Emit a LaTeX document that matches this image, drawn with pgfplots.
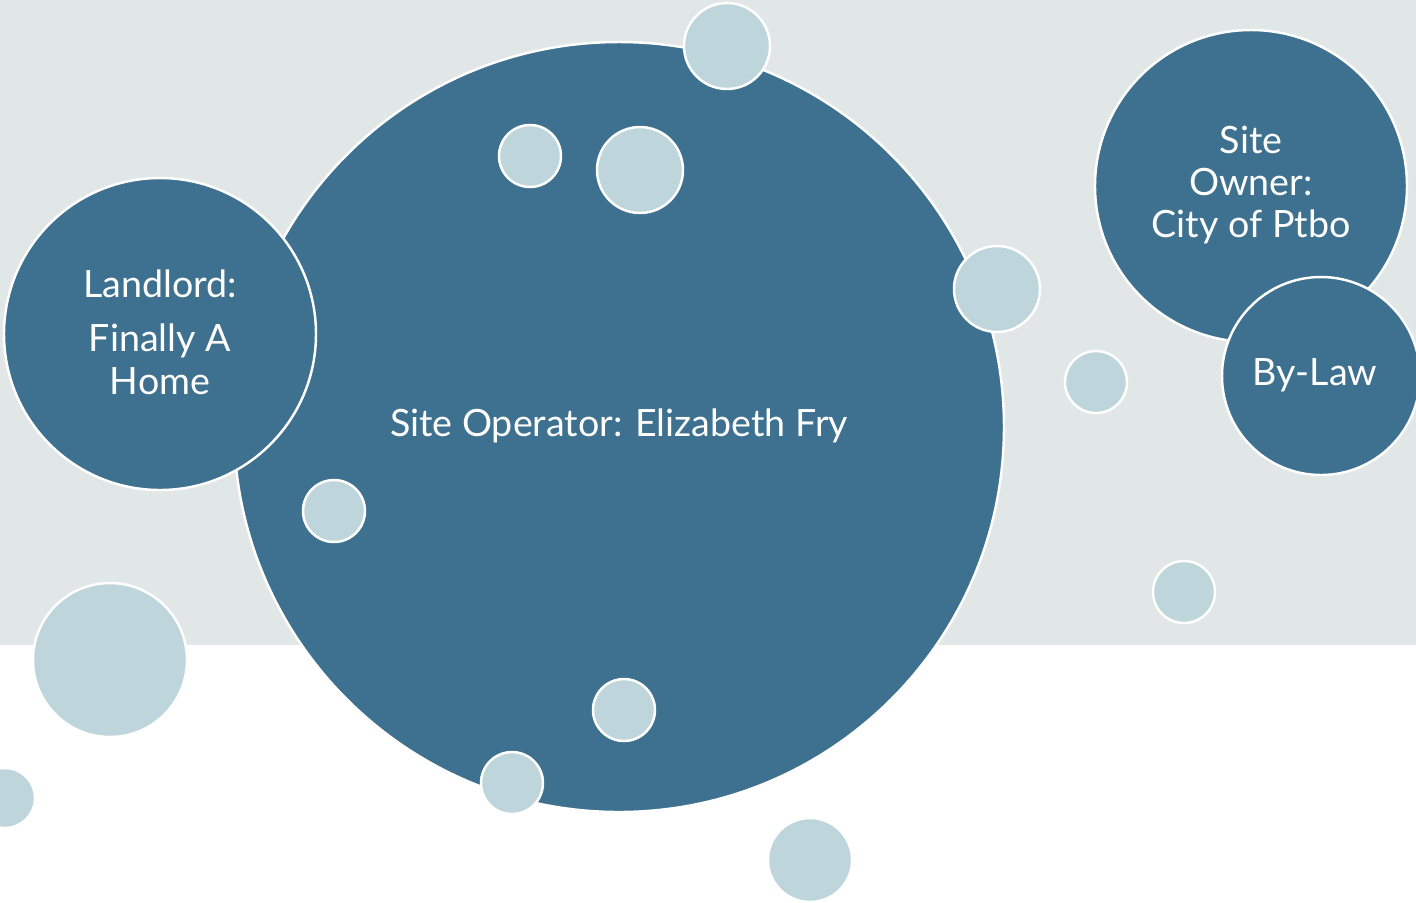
\documentclass[border=0pt]{standalone}
\usepackage{pgfplots}
\pgfplotsset{compat=1.18}
\usepackage{fontspec}
\setmainfont{Lato}
\definecolor{dark}{HTML}{3E7090}
\definecolor{light}{HTML}{BED6DB}
\definecolor{bg}{HTML}{E1E6E7}
\begin{document}
\begin{tikzpicture}
\begin{axis}[width=14.16cm,height=9.04cm,scale only axis,
  xmin=0,xmax=1416,ymin=0,ymax=904,y dir=reverse,axis lines=none,
  clip=true,clip marker paths=true]
\addplot[fill=bg,draw=none] coordinates {(0,0)(1416,0)(1416,645)(0,645)} -- cycle;
% dark bubbles (x, y, radius in px)
\addplot[scatter,only marks,mark=*,point meta=explicit,
  scatter/use mapped color={draw=white,fill=dark},
  mark options={line width=0.7pt},
  visualization depends on={\thisrow{r}*0.28453 \as \rad},
  scatter/@pre marker code/.append style={/tikz/mark size=\rad}]
  table[meta=r] {
x y r
619 427 385
160 334 156
1251 186 156
1321 376 99
};
% light bubbles
\addplot[scatter,only marks,mark=*,point meta=explicit,
  scatter/use mapped color={draw=white,fill=light},
  mark options={line width=0.7pt},
  visualization depends on={\thisrow{r}*0.28453 \as \rad},
  scatter/@pre marker code/.append style={/tikz/mark size=\rad}]
  table[meta=r] {
x y r
727 46 43
530 156 31
640 170 43
997 289 43
1096 382 31
334 511 31
1184 592 31
110 660 77
624 710 31
512 783 31
5 798 30
810 860 42
};
\coordinate (op) at (axis cs:619,426);
\coordinate (ll) at (axis cs:160,332);
\coordinate (ow) at (axis cs:1251,185);
\coordinate (bl) at (axis cs:1315,375);
\end{axis}
\node[text=white,font=\fontsize{10.7}{12}\selectfont] at (op) {Site Operator: Elizabeth Fry};
\node[text=white,align=center,font=\fontsize{10.7}{12}\selectfont] at (ll) {Landlord:\\[3.5pt] Finally A\\ Home};
\node[text=white,align=center,font=\fontsize{10.7}{12}\selectfont] at (ow) {Site\\ Owner:\\ City of Ptbo};
\node[text=white,font=\fontsize{10.7}{12}\selectfont] at (bl) {By-Law};
\end{tikzpicture}
\end{document}
